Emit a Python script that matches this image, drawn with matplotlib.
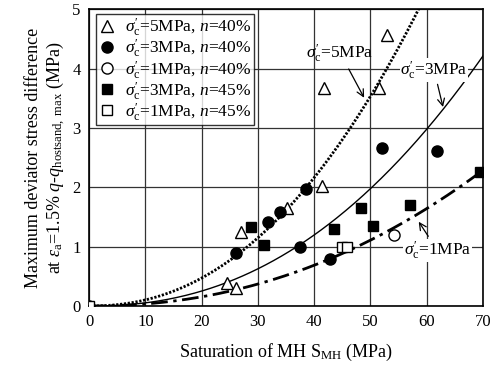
import numpy as np
import matplotlib
matplotlib.use("Agg")
import matplotlib.pyplot as plt

plt.rcParams["font.family"] = ["Liberation Serif", "DejaVu Serif"]
plt.rcParams["mathtext.fontset"] = "custom"
plt.rcParams["mathtext.rm"] = "Liberation Serif"
plt.rcParams["mathtext.it"] = "Liberation Serif:italic"
plt.rcParams["mathtext.bf"] = "Liberation Serif:bold"

# Measured points: MH saturation (%) vs. max deviator stress difference (MPa)
tri5_40_x = [24.6, 26.2, 27.0, 35.2, 41.4, 41.7, 51.5, 53.0]
tri5_40_y = [0.38, 0.30, 1.25, 1.65, 2.03, 3.67, 3.67, 4.57]

dot3_40_x = [26.2, 31.8, 34.0, 38.6, 37.4, 42.8, 52.1, 61.9]
dot3_40_y = [0.90, 1.42, 1.59, 1.97, 1.00, 0.80, 2.66, 2.62]

circ1_40_x = [0.0, 54.2]
circ1_40_y = [0.0, 1.20]

sq3_45_x = [28.8, 31.0, 43.6, 48.3, 50.5, 57.1, 69.5]
sq3_45_y = [1.33, 1.03, 1.29, 1.66, 1.35, 1.70, 2.26]

sq1_45_x = [0.0, 45.0, 45.8]
sq1_45_y = [0.0, 1.00, 1.00]

# Power-law trend lines  q = a * S^b
fit5 = (6.47e-4, 2.2)
fit3 = (2.977e-4, 2.25)
fit1 = (2.47e-4, 2.15)

fig = plt.figure(figsize=(5.02, 3.75), dpi=100)
ax = fig.add_axes([0.1773, 0.184, 0.785, 0.7907])

s = np.linspace(0, 70, 400)
ax.plot(s, fit5[0] * s ** fit5[1], color="black", lw=2.0,
        linestyle=(0, (0.8, 0.6)), dash_capstyle="butt", zorder=2)
ax.plot(s, fit3[0] * s ** fit3[1], color="black", lw=1.0, linestyle="-", zorder=2)
ax.plot(s, fit1[0] * s ** fit1[1], color="black", lw=2.0,
        linestyle=(0, (6, 2, 1.2, 2)), zorder=2)

ms = 8
ax.plot(tri5_40_x, tri5_40_y, linestyle="none", marker="^", ms=ms,
        mfc="white", mec="black", mew=1.0, zorder=4,
        label=r"$\sigma^{\prime}_{\rm c}$=5MPa, $n$=40%")
ax.plot(dot3_40_x, dot3_40_y, linestyle="none", marker="o", ms=ms,
        mfc="black", mec="black", mew=1.0, zorder=4,
        label=r"$\sigma^{\prime}_{\rm c}$=3MPa, $n$=40%")
ax.plot(circ1_40_x, circ1_40_y, linestyle="none", marker="o", ms=ms,
        mfc="white", mec="black", mew=1.0, zorder=4,
        label=r"$\sigma^{\prime}_{\rm c}$=1MPa, $n$=40%")
ax.plot(sq3_45_x, sq3_45_y, linestyle="none", marker="s", ms=ms - 1,
        mfc="black", mec="black", mew=1.0, zorder=4,
        label=r"$\sigma^{\prime}_{\rm c}$=3MPa, $n$=45%")
ax.plot(sq1_45_x, sq1_45_y, linestyle="none", marker="s", ms=ms - 1,
        mfc="white", mec="black", mew=1.0, zorder=4,
        label=r"$\sigma^{\prime}_{\rm c}$=1MPa, $n$=45%")

ax.set_xlim(0, 70)
ax.set_ylim(0, 5)
ax.set_xticks(range(0, 71, 10))
ax.set_yticks(range(0, 6))
ax.grid(True, color="#333333", lw=0.9)
ax.set_axisbelow(True)
ax.tick_params(length=0, labelsize=12, pad=6)
for sp in ax.spines.values():
    sp.set_linewidth(1.2)

ax.set_xlabel(r"Saturation of MH S$_{\rm MH}$ (MPa)", fontsize=13, labelpad=8)
ax.set_ylabel("Maximum deviator stress difference\n"
              r"at $\varepsilon_{\rm a}$=1.5% $q$-$q_{\rm hostsand,\ max}$ (MPa)",
              fontsize=13, labelpad=4, linespacing=1.1)

leg = ax.legend(loc="upper left", bbox_to_anchor=(0.018, 0.985), fontsize=12.5,
                frameon=True, fancybox=False, edgecolor="black",
                handletextpad=0.5, borderpad=0.15, labelspacing=-0.05,
                handlelength=1.0, borderaxespad=0.0)
leg.get_frame().set_linewidth(1.0)
leg.set_zorder(6)

bbox = dict(facecolor="white", edgecolor="none", pad=0.5)
arrow = dict(arrowstyle="->", color="black", lw=0.9)
ax.annotate(r"$\sigma^{\prime}_{\rm c}$=5MPa", xy=(49.1, 3.47), xytext=(38.6, 4.27),
            fontsize=12.5, va="center", ha="left", arrowprops=arrow, zorder=5)
ax.annotate(r"$\sigma^{\prime}_{\rm c}$=3MPa", xy=(63.0, 3.31), xytext=(55.3, 3.98),
            fontsize=12.5, va="center", ha="left", arrowprops=arrow, bbox=bbox, zorder=5)
ax.annotate(r"$\sigma^{\prime}_{\rm c}$=1MPa", xy=(58.3, 1.46), xytext=(55.9, 0.94),
            fontsize=12.5, va="center", ha="left", arrowprops=arrow, bbox=bbox, zorder=5)

fig.savefig("out.png", dpi=100)
